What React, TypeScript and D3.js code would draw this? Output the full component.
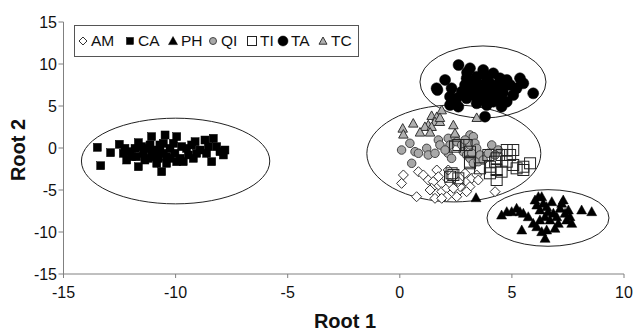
import React from "react";
import * as d3 from "d3";

const W = 634;
const H = 331;

const xTicks = [-15, -10, -5, 0, 5, 10];
const yTicks = [-15, -10, -5, 0, 5, 10, 15];
const seriesNames = ["AM", "CA", "PH", "QI", "TI", "TA", "TC"];

const AM: [number, number][] = [
  [0.08, -4.21], [0.16, -3.21], [0.83, -2.82], [1.05, -3.21], [1.27, -3.81], [1.65, -2.62],
  [1.72, -3.42], [1.49, -4.01], [1.87, -4.21], [1.42, -4.8], [1.65, -5.39], [1.87, -5.2],
  [2.09, -4.8], [2.24, -4.21], [0.75, -5.8], [1.57, -5.99], [2.09, -5.8], [2.61, -5.2],
  [2.69, -4.6], [2.91, -3.01], [2.98, -4.01], [3.13, -4.6], [3.21, -3.61], [3.43, -3.21],
  [3.5, -3.81], [2.61, -4.01], [2.39, -4.8], [2.16, -2.62], [1.35, -5.0], [2.98, -5.2],
  [4.25, -5.2], [1.87, -5.99], [2.54, -5.8],
];

const CA: [number, number][] = [
  [-13.49, 0.08], [-12.9, -0.56], [-13.34, -2.11], [-12.51, 0.44], [-12.33, -0.63], [-12.18, -1.43],
  [-12.03, -0.44], [-11.66, 0.63], [-11.66, -2.23], [-11.74, -1.04], [-11.44, -0.63], [-11.29, -0.04],
  [-11.14, 0.36], [-11.07, 1.35], [-10.99, -1.04], [-10.84, -1.82], [-10.7, -0.44], [-10.62, -2.82],
  [-10.55, 0.56], [-10.47, 1.55], [-10.4, -1.04], [-10.25, -0.04], [-10.03, -0.63], [-9.95, 1.35],
  [-9.73, 0.16], [-9.66, -1.63], [-9.43, -0.83], [-9.21, -1.23], [-9.13, 0.75], [-8.91, -0.24],
  [-8.69, 0.95], [-8.54, 0.16], [-8.39, -1.63], [-8.32, 1.15], [-8.17, 0.16], [-8.02, -0.44],
  [-7.87, -0.83], [-7.8, -0.24], [-11.37, -1.43], [-10.92, -0.24], [-10.77, -1.23], [-10.1, 0.56],
  [-9.8, -1.23], [-9.06, -0.63], [-11.81, -0.04], [-11.22, -1.23], [-10.4, -1.82], [-11.96, -1.04],
  [-12.26, -0.04], [-11.07, -0.44], [-10.25, -1.23], [-9.51, -0.04], [-8.62, -0.63], [-9.28, 0.36],
  [-9.95, -1.63], [-10.7, 0.36], [-11.51, 0.16], [-10.55, -0.63],
];

const PH: [number, number][] = [
  [4.54, -7.98], [4.77, -7.58], [4.99, -7.58], [5.21, -7.18], [5.36, -7.58], [5.51, -7.77],
  [5.73, -8.18], [5.44, -9.76], [6.03, -6.19], [6.18, -5.8], [6.33, -5.8], [6.11, -6.79],
  [6.25, -7.38], [6.4, -6.58], [6.55, -6.98], [6.62, -7.58], [6.48, -8.18], [6.7, -8.57],
  [6.85, -7.77], [7.0, -8.18], [7.15, -7.18], [7.22, -6.58], [7.29, -6.19], [7.37, -7.77],
  [7.44, -8.57], [7.59, -8.18], [7.67, -8.97], [6.92, -9.56], [6.55, -9.76], [6.33, -9.96],
  [6.48, -10.75], [5.95, -8.97], [6.11, -9.37], [8.11, -7.38], [8.56, -7.58], [6.78, -6.39],
  [7.07, -8.97], [6.25, -8.57], [7.52, -7.38], [3.4, -5.92],
];

const QI: [number, number][] = [
  [0.08, -0.24], [0.45, 0.56], [0.68, -0.44], [0.83, -0.63], [0.53, -1.82], [1.2, -0.04],
  [1.27, -0.83], [1.57, -0.63], [1.72, 0.95], [1.79, 0.36], [2.16, 1.15], [2.24, 0.36],
  [2.46, 1.35], [2.54, 0.75], [2.16, -0.63], [2.31, -1.23], [2.76, 0.36], [2.83, -0.44],
  [3.13, 1.55], [3.28, 1.35], [3.13, 0.36], [3.35, 0.56], [3.43, -0.04], [2.98, -0.83],
  [3.13, -1.23], [3.28, -1.82], [3.5, -1.63], [3.58, -0.83], [3.95, -0.63], [4.1, 0.36],
  [4.39, -0.24], [4.25, -0.83], [3.72, -1.43], [3.21, -0.63], [2.02, -0.24], [2.91, 0.95],
];

const TI: [number, number][] = [
  [2.46, 0.16], [2.61, 0.36], [2.98, 0.36], [3.13, -0.44], [3.13, -1.63], [3.58, -2.42],
  [4.02, -2.23], [3.95, -0.83], [4.32, -1.23], [4.54, -0.83], [4.77, -0.24], [5.06, -0.24],
  [4.77, -1.63], [5.06, -2.02], [5.21, -2.42], [5.51, -2.62], [5.81, -1.82], [4.32, -2.62],
  [4.54, -2.82], [4.32, -3.81], [4.02, -3.01], [2.39, -3.21], [2.31, -3.01], [2.24, -3.42],
  [2.61, -3.61], [3.13, -1.82], [4.92, -0.83], [4.25, -1.63], [5.51, -2.23],
];

const TA: [number, number][] = [
  [2.62, 9.88], [3.13, 9.49], [3.72, 9.29], [2.98, 8.3], [3.43, 8.49], [3.8, 8.69],
  [4.17, 8.89], [4.47, 8.3], [4.77, 8.1], [5.36, 8.3], [5.95, 6.51], [2.02, 8.1],
  [1.64, 7.11], [2.31, 7.11], [2.76, 6.7], [3.13, 7.3], [3.58, 7.5], [4.02, 7.7],
  [4.32, 7.11], [4.62, 7.3], [4.92, 7.5], [5.21, 7.11], [3.28, 6.31], [3.72, 6.51],
  [4.17, 6.31], [4.47, 5.92], [4.77, 5.51], [3.88, 5.51], [3.43, 5.32], [2.98, 5.92],
  [2.24, 5.12], [2.61, 4.92], [3.88, 5.12], [4.54, 4.92], [3.8, 3.73], [3.13, 6.7],
  [3.5, 6.9], [3.95, 6.9], [2.91, 7.5], [5.06, 6.31], [5.51, 7.7], [4.17, 5.51],
  [3.58, 5.92], [2.54, 5.92], [2.24, 6.11], [3.3, 7.9], [3.9, 8.1], [4.4, 7.6],
  [3.6, 6.0], [4.0, 6.4], [4.6, 6.6], [3.0, 9.0], [1.68, 6.9],
];

const TC: [number, number][] = [
  [1.42, 3.85], [1.65, 3.73], [1.87, 4.52], [1.57, 3.13], [1.79, 3.13], [1.27, 2.74],
  [1.12, 2.54], [1.42, 2.54], [0.9, 1.87], [1.35, 1.87], [0.6, 2.94], [0.13, 2.34],
  [0.16, 1.63], [2.39, 2.74], [2.46, 1.75], [3.43, 3.61], [1.79, 3.61],
];

// ellipses: center x, center y, radius x, radius y (data units)
const ellCX = [-10.0, 3.71, 2.41, 6.61];
const ellCY = [-1.55, 7.86, -0.65, -8.33];
const ellRX = [4.2, 2.81, 3.88, 2.72];
const ellRY = [5.1, 4.29, 5.77, 3.37];

const x = d3.scaleLinear().domain([-15, 10]).range([63.5, 624]);
const y = d3.scaleLinear().domain([-15, 15]).range([274, 22]);

const FONT = "Liberation Sans, Arial, sans-serif";

type Kind = "diamond" | "square" | "triangle" | "circle";

function Marker({ kind, cx, cy, size, fill, stroke, sw }: { kind: Kind; cx: number; cy: number; size: number; fill: string; stroke: string; sw: number }) {
  const s = size / 2;
  if (kind === "circle") return <circle cx={cx} cy={cy} r={s} fill={fill} stroke={stroke} strokeWidth={sw} />;
  if (kind === "square") return <rect x={cx - s} y={cy - s} width={size} height={size} fill={fill} stroke={stroke} strokeWidth={sw} />;
  if (kind === "diamond")
    return <path d={`M${cx},${cy - s}L${cx + s},${cy}L${cx},${cy + s}L${cx - s},${cy}Z`} fill={fill} stroke={stroke} strokeWidth={sw} />;
  return <path d={`M${cx},${cy - s}L${cx + s},${cy + s * 0.8}L${cx - s},${cy + s * 0.8}Z`} fill={fill} stroke={stroke} strokeWidth={sw} />;
}

const styles: Record<string, { kind: Kind; size: number; fill: string; stroke: string; sw: number; lsize: number }> = {
  AM: { kind: "diamond", size: 10, fill: "#fff", stroke: "#333", sw: 1, lsize: 8 },
  CA: { kind: "square", size: 8, fill: "#000", stroke: "#000", sw: 0.5, lsize: 7 },
  PH: { kind: "triangle", size: 10, fill: "#000", stroke: "#000", sw: 0.5, lsize: 9 },
  QI: { kind: "circle", size: 8.5, fill: "#a8a8a8", stroke: "#444", sw: 1, lsize: 7 },
  TI: { kind: "square", size: 11, fill: "none", stroke: "#222", sw: 1, lsize: 9 },
  TA: { kind: "circle", size: 11, fill: "#000", stroke: "#000", sw: 0.5, lsize: 10 },
  TC: { kind: "triangle", size: 9.5, fill: "#b0b0b0", stroke: "#333", sw: 1, lsize: 8 },
};

const seriesData: Record<string, [number, number][]> = { AM, CA, PH, QI, TI, TA, TC };

const legendX = [83, 130, 173, 213, 252, 283, 323];

export default function App() {
  return (
    <div style={{ position: "fixed", left: 0, top: 0 }}>
      <svg width={W} height={H} style={{ display: "block", background: "#fff" }}>
        {ellCX.map((cx, i) => (
          <ellipse
            key={"e" + i}
            cx={x(cx)}
            cy={y(ellCY[i])}
            rx={x(ellRX[i]) - x(0)}
            ry={y(0) - y(ellRY[i])}
            fill="none"
            stroke="#222"
            strokeWidth={1}
          />
        ))}
        {seriesNames.map((name) => {
          const st = styles[name];
          return (
            <g key={name}>
              {seriesData[name].map((p, j) => (
                <Marker key={j} kind={st.kind} cx={x(p[0])} cy={y(p[1])} size={st.size} fill={st.fill} stroke={st.stroke} sw={st.sw} />
              ))}
            </g>
          );
        })}
        <line x1={x(-15)} x2={x(-15)} y1={y(15)} y2={y(-15)} stroke="#808080" strokeWidth={1} />
        <line x1={x(-15)} x2={x(10)} y1={y(-15)} y2={y(-15)} stroke="#808080" strokeWidth={1} />
        {yTicks.map((t) => (
          <g key={"y" + t}>
            <line x1={x(-15) - 5} x2={x(-15)} y1={y(t)} y2={y(t)} stroke="#808080" />
            <text x={57} y={y(t)} dy="0.35em" textAnchor="end" fontFamily={FONT} fontSize={16} fill="#111">
              {t}
            </text>
          </g>
        ))}
        {xTicks.map((t) => (
          <g key={"x" + t}>
            <line x1={x(t)} x2={x(t)} y1={y(-15)} y2={y(-15) + 4} stroke="#808080" />
            <text x={x(t)} y={298} textAnchor="middle" fontFamily={FONT} fontSize={16} fill="#111">
              {t}
            </text>
          </g>
        ))}
        <text x={345} y={328} textAnchor="middle" fontFamily={FONT} fontSize={20} fontWeight="bold" fill="#111">
          Root 1
        </text>
        <text transform={`translate(25,150) rotate(-90)`} textAnchor="middle" fontFamily={FONT} fontSize={20} fontWeight="bold" fill="#111">
          Root 2
        </text>
        <rect x={74.5} y={25.5} width={284} height={31} fill="#fff" stroke="#555" strokeWidth={1} />
        {seriesNames.map((name, i) => {
          const st = styles[name];
          return (
            <g key={"l" + name}>
              <Marker kind={st.kind} cx={legendX[i]} cy={41} size={st.lsize} fill={st.fill === "none" ? "#fff" : st.fill} stroke={st.stroke} sw={st.sw} />
              <text x={legendX[i] + 8} y={41} dy="0.35em" fontFamily={FONT} fontSize={15.5} fill="#111">
                {name}
              </text>
            </g>
          );
        })}
      </svg>
    </div>
  );
}
